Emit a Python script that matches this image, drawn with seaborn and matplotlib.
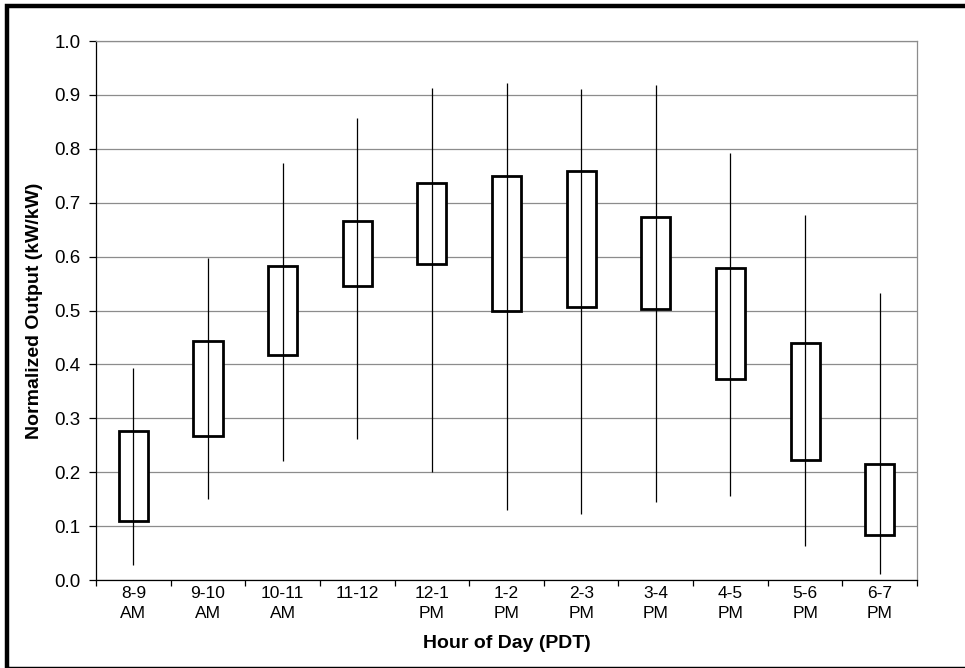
import numpy as np
import pandas as pd
import matplotlib
matplotlib.use("Agg")
import matplotlib.pyplot as plt
import seaborn as sns
from matplotlib.patches import Rectangle
from matplotlib.ticker import MultipleLocator, FixedLocator

# Data
hours = ['8-9\nAM', '9-10\nAM', '10-11\nAM', '11-12', '12-1\nPM', '1-2\nPM',
         '2-3\nPM', '3-4\nPM', '4-5\nPM', '5-6\nPM', '6-7\nPM']
low = [0.028, 0.150, 0.221, 0.262, 0.201, 0.130, 0.122, 0.145, 0.156, 0.063, 0.012]
high = [0.393, 0.598, 0.773, 0.857, 0.913, 0.922, 0.911, 0.918, 0.792, 0.678, 0.532]
q1 = [0.110, 0.267, 0.417, 0.545, 0.586, 0.500, 0.507, 0.503, 0.373, 0.223, 0.084]
q3 = [0.276, 0.444, 0.583, 0.666, 0.736, 0.750, 0.759, 0.674, 0.579, 0.440, 0.215]

df = pd.DataFrame({'hour': hours, 'low': low, 'high': high, 'q1': q1, 'q3': q3})
df['box'] = df['q3'] - df['q1']

sns.set_style('white')
plt.rcParams['font.family'] = ['Liberation Sans', 'DejaVu Sans']
plt.rcParams.update({'text.color': 'black', 'axes.labelcolor': 'black',
                     'xtick.color': 'black', 'ytick.color': 'black'})

fig = plt.figure(figsize=(9.65, 6.68), dpi=100)
ax = fig.add_axes([0.0995, 0.1317, 0.8508, 0.8069])

# boxes (q1..q3)
sns.barplot(data=df, x='hour', y='box', order=hours, bottom=df['q1'].values,
            color='white', edgecolor='black', linewidth=2.0, width=0.39,
            errorbar=None, ax=ax, zorder=2)

# whiskers (min..max), drawn through the box
ax.vlines(np.arange(len(hours)), df['low'], df['high'], color='black',
          linewidth=0.9, zorder=3)

ax.set_ylim(0, 1.0)
ax.set_xlim(-0.5, len(hours) - 0.5)
ax.yaxis.set_major_locator(MultipleLocator(0.1))
ax.yaxis.set_major_formatter(matplotlib.ticker.FormatStrFormatter('%.1f'))
ax.grid(axis='y', color='#8c8c8c', linewidth=0.9, zorder=0)
ax.set_axisbelow(True)

# x ticks at category boundaries, labels at centres
ax.xaxis.set_minor_locator(FixedLocator(np.arange(-0.5, len(hours), 1.0)))
ax.tick_params(axis='x', which='major', length=0, pad=4, labelsize=12.5, labelcolor='black')
ax.tick_params(axis='x', which='minor', length=4, width=0.9, direction='out',
               bottom=True, color='black')
ax.tick_params(axis='y', which='major', length=5, width=0.9, direction='out',
               left=True, pad=6, labelsize=13.5, color='black', labelcolor='black')
for lab in ax.get_xticklabels():
    lab.set_linespacing(1.45)

for s in ['left', 'bottom']:
    ax.spines[s].set_color('black')
    ax.spines[s].set_linewidth(0.9)
for s in ['top', 'right']:
    ax.spines[s].set_visible(True)
    ax.spines[s].set_color('#8c8c8c')
    ax.spines[s].set_linewidth(0.9)

ax.set_xlabel('Hour of Day (PDT)', fontsize=14, fontweight='bold', labelpad=10)
ax.set_ylabel('Normalized Output (kW/kW)', fontsize=14, fontweight='bold', labelpad=8)

# outer chart border
fig.patches.append(Rectangle((7 / 965, -1 / 668), 1.0, 1 - 5 / 668, transform=fig.transFigure,
                             fill=False, edgecolor='black', linewidth=3.2, clip_on=False))

fig.savefig('out.png', dpi=100)
